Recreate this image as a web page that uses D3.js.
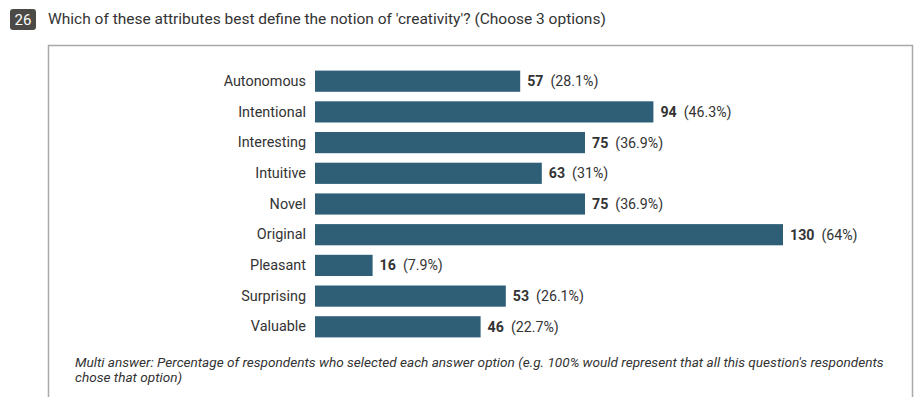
<!DOCTYPE html>
<html>
<head>
<meta charset="utf-8">
<script src="https://cdn.jsdelivr.net/npm/d3@7"></script>
<style>
  html, body { margin: 0; padding: 0; background: #fff; }
  svg { display: block; font-family: Roboto, "Helvetica Neue", Arial, sans-serif; }
</style>
</head>
<body>
<svg id="chart" width="915" height="397"></svg>
<script>
// Survey question 26: attributes chosen to define "creativity"
const questionNumber = "26";
const questionText = "Which of these attributes best define the notion of 'creativity'? (Choose 3 options)";
const categories = ["Autonomous", "Intentional", "Interesting", "Intuitive", "Novel", "Original", "Pleasant", "Surprising", "Valuable"];
const counts = [57, 94, 75, 63, 75, 130, 16, 53, 46];
const percents = ["28.1%", "46.3%", "36.9%", "31%", "36.9%", "64%", "7.9%", "26.1%", "22.7%"];
const footnoteLines = [
  "Multi answer: Percentage of respondents who selected each answer option (e.g. 100% would represent that all this question's respondents",
  "chose that option)"
];

const svg = d3.select("#chart");

// Question header with numbered badge
svg.append("rect")
  .attr("x", 10).attr("y", 9).attr("width", 26).attr("height", 21)
  .attr("rx", 3).attr("fill", "#4b4a46");
svg.append("text")
  .attr("x", 23).attr("y", 24.5)
  .attr("text-anchor", "middle")
  .attr("fill", "#fff").attr("font-size", 15)
  .text(questionNumber);
svg.append("text")
  .attr("x", 48).attr("y", 24)
  .attr("fill", "#333").attr("font-size", 15.5)
  .text(questionText);

// Panel frame
svg.append("rect")
  .attr("x", 48.5).attr("y", 45.5).attr("width", 864).attr("height", 360)
  .attr("fill", "none").attr("stroke", "#a9a9a9").attr("stroke-width", 1.5);

// Scales
const x = d3.scaleLinear().domain([0, 130]).range([315, 783]);
const y = d3.scaleBand().domain(categories).range([66, 342]).paddingInner(0.31).paddingOuter(0.15);

const rows = categories.map((c, i) => ({ cat: c, n: counts[i], pct: percents[i] }));

// Category axis (labels only)
const yAxis = d3.axisLeft(y).tickSize(0).tickPadding(9);
const gy = svg.append("g").attr("transform", `translate(${x(0)},0)`).call(yAxis);
gy.select(".domain").remove();
gy.selectAll("text").attr("font-size", 14.4).attr("fill", "#333")
  .attr("font-family", "Roboto, 'Helvetica Neue', Arial, sans-serif");

// Bars
svg.append("g").selectAll("rect")
  .data(rows).join("rect")
  .attr("x", x(0))
  .attr("y", d => y(d.cat))
  .attr("width", d => x(d.n) - x(0))
  .attr("height", y.bandwidth())
  .attr("fill", "#2e5f77");

// Value labels: bold count followed by share
const lab = svg.append("g").selectAll("text")
  .data(rows).join("text")
  .attr("x", d => x(d.n) + 7)
  .attr("y", d => y(d.cat) + y.bandwidth() / 2)
  .attr("dy", "0.35em")
  .attr("font-size", 14.2).attr("fill", "#333");
lab.append("tspan").attr("font-weight", "bold").text(d => d.n);
lab.append("tspan").attr("dx", 7).text(d => `(${d.pct})`);

// Footnote
svg.append("g").selectAll("text")
  .data(footnoteLines).join("text")
  .attr("x", 75)
  .attr("y", (d, i) => 367 + i * 14.5)
  .attr("font-size", 13.6).attr("font-style", "italic").attr("fill", "#333")
  .text(d => d);
</script>
</body>
</html>
